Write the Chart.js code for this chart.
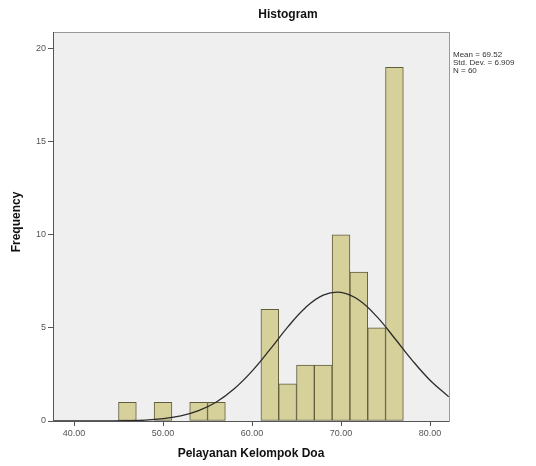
<!DOCTYPE html>
<html>
<head>
<meta charset="utf-8">
<script src="https://cdn.jsdelivr.net/npm/chart.js@4.4.1/dist/chart.umd.min.js"></script>
<style>
  html, body { margin: 0; padding: 0; background: #fff; }
  #wrap { width: 536px; height: 466px; position: relative; }
</style>
</head>
<body>
<div id="wrap"><canvas id="grafico"></canvas></div>
<script>
// bins of width 2, centre of each bin and its count
const binCentres = [46, 50, 54, 56, 62, 64, 66, 68, 70, 72, 74, 76];
const binCounts  = [1, 1, 1, 1, 6, 2, 3, 3, 10, 8, 5, 19];

// normal curve
const curveX = [37.6, 40, 42, 44, 46, 48, 50, 52, 54, 56, 58, 60, 62, 64, 66, 68, 70, 72, 74, 76, 78, 80, 82.1];
const curveY = [0, 0.001, 0.003, 0.008, 0.02, 0.05, 0.13, 0.28, 0.56, 1.02, 1.73, 2.68, 3.83, 5.04, 6.09, 6.76, 6.91, 6.5, 5.62, 4.46, 3.26, 2.19, 1.3];

const xTicks = [40, 50, 60, 70, 80];
const yTicks = [0, 5, 10, 15, 20];

const statLines = ["Mean = 69.52", "Std. Dev. = 6.909", "N = 60"];

const fuente = "'Liberation Sans', Arial, sans-serif";

// fondo gris del área y marco
const marco = {
    id: 'marco',
    beforeDatasetsDraw(chart) {
        const a = chart.chartArea, ctx = chart.ctx;
        ctx.save();
        ctx.fillStyle = '#efeff0';
        ctx.fillRect(a.left, a.top, a.right - a.left, a.bottom - a.top);
        ctx.restore();
    },
    afterDraw(chart) {
        const a = chart.chartArea, ctx = chart.ctx;
        ctx.save();
        ctx.strokeStyle = '#9a9a9a';
        ctx.lineWidth = 1;
        ctx.strokeRect(a.left + 0.5, a.top + 0.5, a.right - a.left, a.bottom - a.top);
        ctx.strokeStyle = '#555';
        ctx.beginPath();
        ctx.moveTo(a.left + 0.5, a.top);
        ctx.lineTo(a.left + 0.5, a.bottom + 0.5);
        ctx.lineTo(a.right, a.bottom + 0.5);
        ctx.stroke();

        // textos
        ctx.fillStyle = '#111';
        ctx.textAlign = 'center';
        ctx.textBaseline = 'middle';
        ctx.font = "bold 12px " + fuente;
        ctx.fillText("Histogram", 288, 15);
        ctx.fillText("Pelayanan Kelompok Doa", 251, 454);
        ctx.save();
        ctx.translate(17, 222);
        ctx.rotate(-Math.PI / 2);
        ctx.fillText("Frequency", 0, 0);
        ctx.restore();

        ctx.font = "8px " + fuente;
        ctx.fillStyle = '#333';
        ctx.textAlign = 'left';
        statLines.forEach((t, i) => ctx.fillText(t, 453, 55 + i * 8));
        ctx.restore();
    }
};

new Chart(document.getElementById('grafico'), {
    data: {
        datasets: [{
            type: 'line',
            data: curveX.map((x, i) => ({ x: x, y: curveY[i] })),
            borderColor: '#2b2b2b',
            borderWidth: 1.3,
            pointRadius: 0,
            tension: 0.4,
            fill: false,
            order: 1
        }, {
            type: 'bar',
            data: binCentres.map((x, i) => ({ x: x, y: binCounts[i] })),
            backgroundColor: '#d6d09a',
            borderColor: '#5f5d3c',
            borderWidth: 1,
            borderSkipped: false,
            barPercentage: 1,
            categoryPercentage: 1,
            order: 2
        }]
    },
    options: {
        responsive: true,
        maintainAspectRatio: false,
        animation: false,
        devicePixelRatio: 1,
        layout: { padding: { top: 32, right: 87, left: 0, bottom: 0 } },
        plugins: { legend: { display: false }, tooltip: { enabled: false } },
        scales: {
            x: {
                type: 'linear',
                offset: false,
                min: 37.64,
                max: 82.13,
                afterBuildTicks: s => { s.ticks = xTicks.map(v => ({ value: v })); },
                afterFit: s => { s.height = 45; },
                grid: { drawOnChartArea: false, drawTicks: true, tickLength: 5, color: '#555', offset: false },
                border: { display: false },
                ticks: {
                    color: '#555',
                    font: { family: fuente, size: 9 },
                    padding: 2,
                    maxRotation: 0,
                    callback: v => Number(v).toFixed(2)
                }
            },
            y: {
                type: 'linear',
                min: 0,
                max: 20.9,
                afterBuildTicks: s => { s.ticks = yTicks.map(v => ({ value: v })); },
                afterFit: s => { s.width = 53; },
                grid: { drawOnChartArea: false, drawTicks: true, tickLength: 5, color: '#555' },
                border: { display: false },
                ticks: {
                    color: '#555',
                    font: { family: fuente, size: 9 },
                    padding: 2
                }
            }
        }
    },
    plugins: [marco]
});
</script>
</body>
</html>
